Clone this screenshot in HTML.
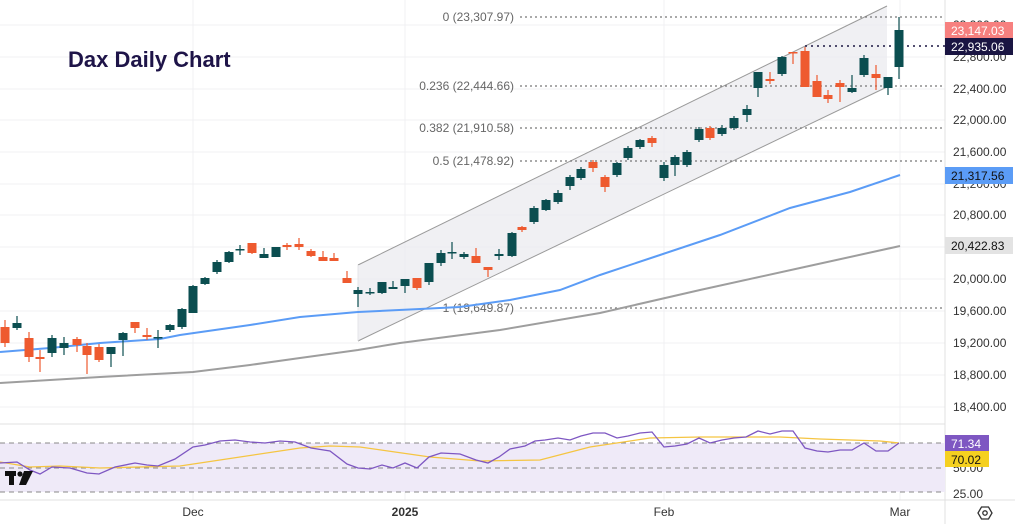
<!DOCTYPE html>
<html><head><meta charset="utf-8"><style>
html,body{margin:0;padding:0;background:#fff}
svg{display:block;font-family:"Liberation Sans",sans-serif}
</style></head><body>
<svg id="c" width="1015" height="524" viewBox="0 0 1015 524" xmlns="http://www.w3.org/2000/svg">
<g stroke="#f0f0f3" stroke-width="1">
<line x1="0" y1="25" x2="945" y2="25"/><line x1="0" y1="57" x2="945" y2="57"/><line x1="0" y1="89" x2="945" y2="89"/><line x1="0" y1="120" x2="945" y2="120"/><line x1="0" y1="152" x2="945" y2="152"/><line x1="0" y1="184" x2="945" y2="184"/><line x1="0" y1="215" x2="945" y2="215"/><line x1="0" y1="247" x2="945" y2="247"/><line x1="0" y1="279" x2="945" y2="279"/><line x1="0" y1="311" x2="945" y2="311"/><line x1="0" y1="343" x2="945" y2="343"/><line x1="0" y1="375" x2="945" y2="375"/><line x1="0" y1="407" x2="945" y2="407"/>
<line x1="193" y1="0" x2="193" y2="500"/><line x1="405" y1="0" x2="405" y2="500"/><line x1="664" y1="0" x2="664" y2="500"/><line x1="900" y1="0" x2="900" y2="500"/>
</g>
<line x1="0" y1="424" x2="945" y2="424" stroke="#e0e0e0"/>
<line x1="0" y1="500" x2="1015" y2="500" stroke="#e0e0e0"/>
<line x1="945" y1="0" x2="945" y2="524" stroke="#e0e0e0"/>
<!-- channel -->
<polygon points="358,265 887,6 887,87 358,341" fill="#ebebef" opacity="0.75"/>
<line x1="358" y1="265" x2="887" y2="6" stroke="#9a9a9a" stroke-width="1"/>
<line x1="358" y1="341" x2="887" y2="87" stroke="#9a9a9a" stroke-width="1"/>
<line x1="358" y1="265" x2="358" y2="341" stroke="#e4e4e8"/>
<!-- fib -->
<g stroke="#777" stroke-width="1.3" stroke-dasharray="2,3">
<line x1="520" y1="17" x2="945" y2="17"/><line x1="520" y1="86" x2="945" y2="86"/><line x1="520" y1="128" x2="945" y2="128"/><line x1="520" y1="161" x2="945" y2="161"/><line x1="520" y1="308" x2="945" y2="308"/>
</g>
<line x1="805" y1="46" x2="945" y2="46" stroke="#1a1542" stroke-width="1.6" stroke-dasharray="2,4"/>
<g fill="#666" font-size="12" text-anchor="end">
<text x="514" y="21">0 (23,307.97)</text><text x="514" y="90">0.236 (22,444.66)</text><text x="514" y="132">0.382 (21,910.58)</text><text x="514" y="165">0.5 (21,478.92)</text><text x="514" y="312">1 (19,649.87)</text>
</g>
<!-- MAs -->
<polyline fill="none" stroke="#5b9cf6" stroke-width="2" points="0,352 50,348 100,343 160,339 180,335 250,325 300,317 358,312 420,309 460,307 510,300 560,290 600,275 660,255 720,235 790,208 850,192 900,175"/>
<polyline fill="none" stroke="#9e9e9e" stroke-width="2" points="0,383 100,377 193,372 250,365 300,358 358,350 400,343 500,330 600,313 700,290 800,268 900,246"/>
<g id="candles"></g>
<!-- RSI -->
<rect x="0" y="443" width="945" height="49" fill="#efeaf8"/>
<g stroke="#888" stroke-dasharray="5,4" stroke-width="1"><line x1="0" y1="443" x2="945" y2="443"/><line x1="0" y1="468" x2="945" y2="468"/><line x1="0" y1="492" x2="945" y2="492"/></g>
<polyline fill="none" stroke="#f5c542" stroke-width="1.3" points="0,462 30,467 60,466 100,468 180,466 220,460 300,448 330,446 360,447 430,457 480,461 540,460 590,447 650,438 700,437 780,437 820,439 880,441 899,443"/>
<polyline fill="none" stroke="#7e57c2" stroke-width="1.3" points="0,463 17,462 30,470 40,474 52,467 70,468 87,473 99,474 115,467 135,463 147,465 158,466 175,459 193,447 205,445 220,441 235,440 250,442 265,443 280,441 295,442 311,448 330,451 347,464 358,468 370,469 382,465 393,468 405,463 417,468 429,457 441,453 460,454 476,460 488,463 499,457 510,449 525,446 535,441 545,440 558,438 570,440 581,436 593,433 605,433 617,438 628,436 640,433 652,432 664,447 675,446 687,444 699,438 710,443 722,440 734,438 746,437 758,431 770,434 782,431 793,431 805,448 817,451 828,452 840,450 852,450 864,443 876,451 888,451 899,443"/>
<!-- TV logo -->
<g fill="#111"><rect x="5" y="471" width="11" height="5"/><rect x="9" y="471" width="5" height="14"/><circle cx="20" cy="474" r="2.6"/><polygon points="24,471 33,471 26,485 19,485"/></g>
<!-- title -->
<text x="68" y="67" font-size="22" font-weight="bold" fill="#1e1448">Dax Daily Chart</text>
<!-- axis labels -->
<g fill="#333" font-size="12">
<text x="953" y="29">23,200.00</text><text x="953" y="61">22,800.00</text><text x="953" y="93">22,400.00</text><text x="953" y="124">22,000.00</text><text x="953" y="156">21,600.00</text><text x="953" y="188">21,200.00</text><text x="953" y="219">20,800.00</text><text x="953" y="251">20,400.00</text><text x="953" y="283">20,000.00</text><text x="953" y="315">19,600.00</text><text x="953" y="347">19,200.00</text><text x="953" y="379">18,800.00</text><text x="953" y="411">18,400.00</text>
<text x="953" y="472">50.00</text><text x="953" y="498">25.00</text>
<text x="193" y="516" text-anchor="middle">Dec</text><text x="405" y="516" text-anchor="middle" font-weight="bold">2025</text><text x="664" y="516" text-anchor="middle">Feb</text><text x="900" y="516" text-anchor="middle">Mar</text>
</g>
<g font-size="12">
<rect x="945" y="22" width="68" height="17" fill="#f7807f"/><text x="951" y="35" fill="#fff">23,147.03</text>
<rect x="945" y="38" width="68" height="17" fill="#1a1542"/><text x="951" y="51" fill="#fff">22,935.06</text>
<rect x="945" y="167" width="68" height="17" fill="#5b9cf6"/><text x="951" y="180" fill="#111">21,317.56</text>
<rect x="945" y="237" width="68" height="17" fill="#e3e3e3"/><text x="951" y="250" fill="#111">20,422.83</text>
<rect x="945" y="435" width="44" height="16" fill="#7e57c2"/><text x="951" y="448" fill="#fff">71.34</text>
<rect x="945" y="451" width="44" height="16" fill="#f5d020"/><text x="951" y="464" fill="#111">70.02</text>
</g>
<g transform="translate(985,513)" fill="none" stroke="#333" stroke-width="1.3"><polygon points="-7,0 -3.5,-6 3.5,-6 7,0 3.5,6 -3.5,6"/><circle r="2.2"/></g>
</svg>
<script>
var d=[
[5,'r',327,343,320,347],[17,'g',323,328,316,330],[29,'r',338,357,332,362],[40,'r',357,359,350,372],[52,'g',338,353,335,357],[64,'g',343,348,337,355],[77,'r',339,345,337,352],[87,'r',346,355,343,374],[99,'r',347,360,344,362],[111,'g',347,354,347,367],[123,'g',333,340,332,356],[135,'r',322,328,322,333],[147,'r',335,337,328,340],[158,'g',337,338,330,348],[170,'g',325,330,324,332],[182,'g',309,327,308,329],[193,'g',286,313,285,313],[205,'g',278,284,277,285],[217,'g',262,272,260,274],[229,'g',252,262,251,263],[240,'g',249,250,245,255],[252,'r',243,253,243,254],[264,'g',254,258,248,258],[276,'g',247,257,247,257],[287,'r',245,247,243,250],[299,'r',244,247,238,250],[311,'r',251,256,249,257],[323,'r',257,261,251,261],[334,'r',258,261,253,261],[347,'r',278,283,271,283],[358,'g',290,294,287,307],[370,'g',292,293,288,295],[382,'g',282,293,282,294],[393,'g',287,289,281,289],[405,'g',279,286,279,293],[417,'r',278,288,278,290],[429,'g',263,282,263,285],[441,'g',253,263,250,266],[452,'g',252,253,242,259],[464,'g',254,257,252,259],[476,'r',256,263,248,263],[488,'r',267,270,267,277],
[499,'g',254,256,249,260],[512,'g',233,256,232,257],[522,'r',227,230,226,232],[534,'g',208,222,206,224],[546,'g',200,210,199,211],[558,'g',193,202,190,204],[570,'g',177,186,175,190],[581,'g',169,178,167,180],[593,'r',162,168,160,172],[605,'r',177,187,175,192],[617,'g',163,175,162,177],[628,'g',148,158,146,160],[640,'g',140,147,139,149],[652,'r',138,143,136,147],[664,'g',165,178,162,181],[675,'g',157,165,155,176],[687,'g',152,165,150,167],[699,'g',129,140,127,142],[710,'r',128,138,126,140],[722,'g',128,134,125,136],[734,'g',118,128,116,130],[747,'g',109,115,105,122],[758,'g',72,88,72,97],[770,'r',79,81,72,84],[782,'g',57,74,56,76],[793,'r',52,53,52,64],[805,'r',51,87,47,87],[817,'r',81,97,75,97],[828,'r',95,99,90,103],[840,'r',83,87,80,102],[852,'g',88,92,75,93],[864,'g',58,75,55,77],[876,'r',74,78,65,90],[888,'g',77,88,77,95],[899,'g',30,67,17,79]];
var s='';d.forEach(function(c){var col=c[1]=='g'?'#0b4e50':'#ee5a2f';var h=Math.max(1.5,c[3]-c[2]);
s+='<line x1="'+c[0]+'" y1="'+c[4]+'" x2="'+c[0]+'" y2="'+c[5]+'" stroke="'+col+'" stroke-width="1.2"/>';
s+='<rect x="'+(c[0]-4.5)+'" y="'+c[2]+'" width="9" height="'+h+'" fill="'+col+'"/>';});
document.getElementById('candles').innerHTML=s;
</script>
</body></html>
